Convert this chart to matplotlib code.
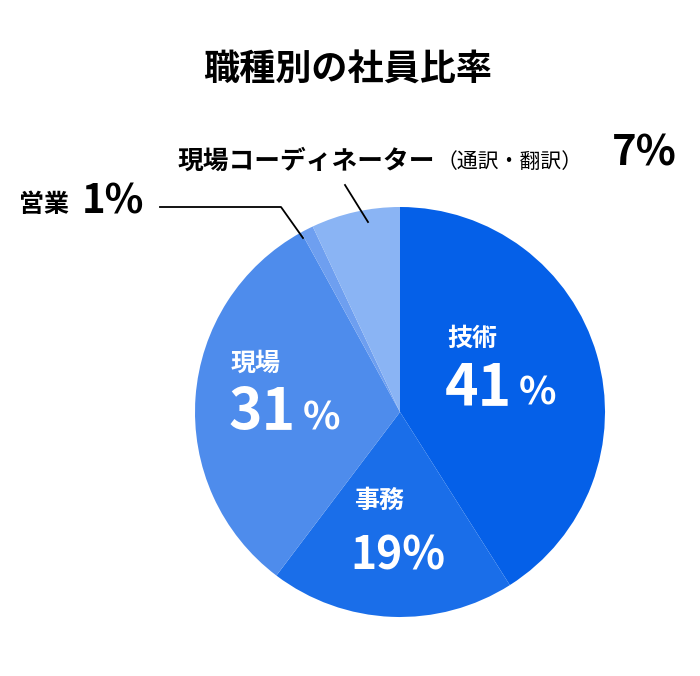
import matplotlib
matplotlib.use('Agg')
import matplotlib.pyplot as plt

plt.rcParams['font.family'] = ['Noto Sans CJK JP', 'DejaVu Sans']

title = '職種別の社員比率'
categories = ['技術', '事務', '現場', '営業', '現場コーディネーター']
labels = ['41', '19', '31', '1', '7']
shares = [41, 19.3, 31.7, 1, 7]
colors = ['#0560E8', '#1A6EE9', '#4E8CEC', '#6E9FF0', '#8AB4F4']

W, H = 700, 676
fig = plt.figure(figsize=(W / 100, H / 100), dpi=100)
ax = fig.add_axes([0, 0, 1, 1])
ax.axis('off')


def py(y):
    # pixel row (from top) -> data y
    return H - y


ax.pie(shares, colors=colors, startangle=90, counterclock=False,
       center=(400, py(412)), radius=205, wedgeprops=dict(linewidth=0))
ax.set_xlim(0, W)
ax.set_ylim(0, H)
ax.set_aspect('equal')

ax.text(348, py(70), title, ha='center', va='center', fontsize=26, fontweight='bold')

# labels inside the pie
ax.text(447, py(339), categories[0], ha='left', va='center', fontsize=18,
        fontweight='bold', color='white')
ax.text(445, py(388), labels[0], ha='left', va='center', fontsize=41,
        fontweight='bold', color='white')
ax.text(519, py(393), '%', ha='left', va='center', fontsize=28,
        fontweight='bold', color='white')

ax.text(231, py(364), categories[2], ha='left', va='center', fontsize=18,
        fontweight='bold', color='white')
ax.text(229, py(413), labels[2], ha='left', va='center', fontsize=41,
        fontweight='bold', color='white')
ax.text(303, py(418), '%', ha='left', va='center', fontsize=28,
        fontweight='bold', color='white')

ax.text(354, py(501), categories[1], ha='left', va='center', fontsize=18,
        fontweight='bold', color='white')
ax.text(350, py(556), labels[1] + '%', ha='left', va='center', fontsize=32,
        fontweight='bold', color='white')

# outside labels
ax.text(19, py(205), categories[3], ha='left', va='center', fontsize=18,
        fontweight='bold', color='black')
ax.text(82, py(202), labels[3] + '%', ha='left', va='center', fontsize=29,
        fontweight='bold', color='black')
ax.plot([160, 281, 303], [py(207), py(207), py(238)], color='black', lw=1.3)

ax.text(178, py(161), categories[4], ha='left', va='center', fontsize=18.5,
        fontweight='bold', color='black')
ax.text(437, py(162), '（通訳・翻訳）', ha='left', va='center', fontsize=15,
        color='black')
ax.text(612, py(154), labels[4] + '%', ha='left', va='center', fontsize=30,
        fontweight='bold', color='black')
ax.plot([345, 368], [py(185), py(222)], color='black', lw=1.3)

fig.savefig('out.png', dpi=100)
